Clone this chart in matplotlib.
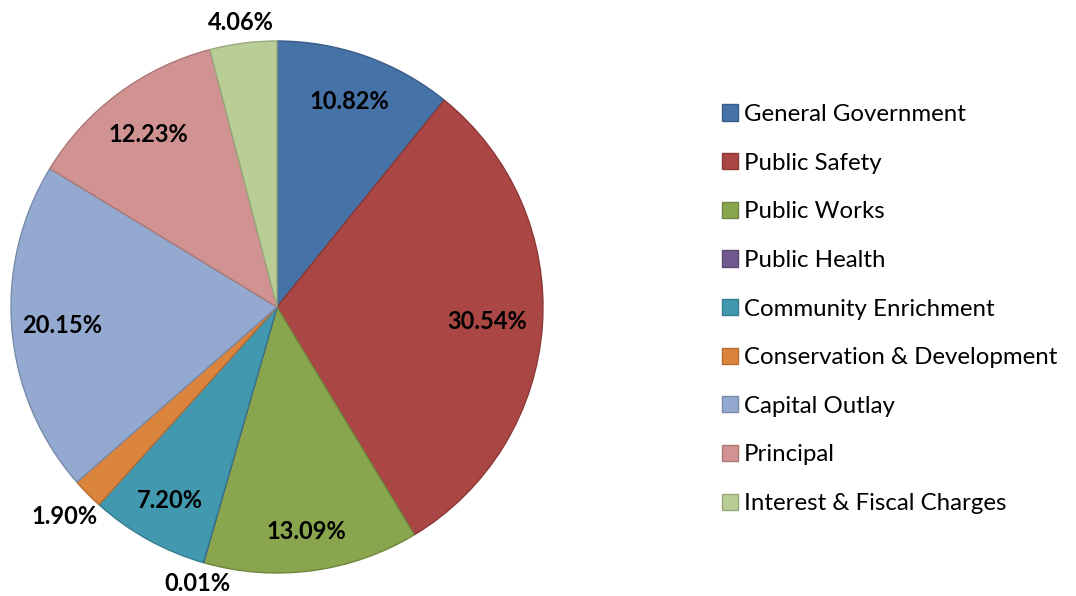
import matplotlib.pyplot as plt
import matplotlib.colors as mcolors
import numpy as np
from matplotlib.patches import Patch

plt.rcParams["font.family"] = ["Lato", "DejaVu Sans"]

# =========================
# DATOS
# =========================
categorias = [
    "General Government",
    "Public Safety",
    "Public Works",
    "Public Health",
    "Community Enrichment",
    "Conservation & Development",
    "Capital Outlay",
    "Principal",
    "Interest & Fiscal Charges",
]
porcentajes = [10.82, 30.54, 13.09, 0.01, 7.20, 1.90, 20.15, 12.23, 4.06]
etiquetas = ["10.82%", "30.54%", "13.09%", "0.01%", "7.20%", "1.90%", "20.15%", "12.23%", "4.06%"]

colores = ["#4572A7", "#AA4643", "#89A54E", "#71588F", "#4198AF",
           "#DB843D", "#93A9CF", "#D19392", "#B9CD96"]
# distancia radial de cada etiqueta (las pequenas van fuera)
dist_etiqueta = [0.82, 0.79, 0.85, 1.08, 0.83, 1.12, 0.81, 0.81, 1.08]


def oscurecer(c, f=0.82):
    r, g, b = mcolors.to_rgb(c)
    return (r * f, g * f, b * f)


W, H = 1076, 596
fig = plt.figure(figsize=(W / 100, H / 100), dpi=100)
cx, cy, R = 277, 307, 266
ax = fig.add_axes([(cx - R) / W, (H - cy - R) / H, 2 * R / W, 2 * R / H])

wedges, _ = ax.pie(
    porcentajes,
    colors=colores,
    startangle=90,
    counterclock=False,
    radius=1.0,
    wedgeprops=dict(linewidth=1.0),
)
for w, c in zip(wedges, colores):
    w.set_edgecolor(oscurecer(c))

for w, txt, d in zip(wedges, etiquetas, dist_etiqueta):
    ang = np.deg2rad((w.theta1 + w.theta2) / 2)
    ax.text(d * np.cos(ang), d * np.sin(ang), txt, ha="center", va="center",
            fontsize=17, fontweight="bold", color="black")

ax.set_xlim(-1, 1)
ax.set_ylim(-1, 1)
ax.set_aspect("equal")
ax.axis("off")

handles = [Patch(facecolor=c, edgecolor=oscurecer(c), linewidth=1.0) for c in colores]
fig.legend(
    handles, categorias,
    loc="upper left",
    bbox_to_anchor=(722 / W, 1 - 104 / H),
    frameon=False,
    fontsize=17.3,
    borderpad=0,
    borderaxespad=0,
    handlelength=0.66,
    handleheight=0.66,
    handletextpad=0.25,
    labelspacing=1.15,
)

fig.savefig("out.png", dpi=100)
